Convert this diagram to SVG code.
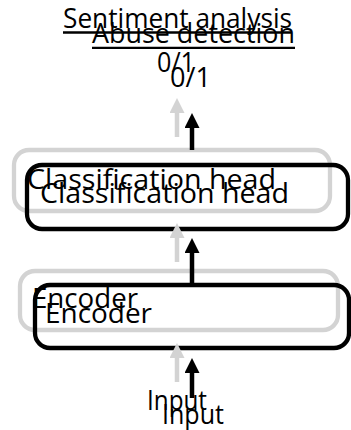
<svg xmlns="http://www.w3.org/2000/svg" width="351" height="430" viewBox="0 0 351 430">
<style>
text{font-family:"Open Sans","Noto Sans","Liberation Sans",sans-serif;font-size:27px;fill:#000}
.g{fill:none;stroke:#d3d3d3;stroke-width:4.3}
.b{fill:none;stroke:#000;stroke-width:4.3}
.ga{stroke:#d3d3d3;stroke-width:4.5;marker-end:url(#hg)}
.ba{stroke:#000;stroke-width:4.5;marker-end:url(#hb)}
.ul{stroke:#000;stroke-width:2.3}
</style>
<defs>
<marker id="hg" markerUnits="userSpaceOnUse" markerWidth="15" markerHeight="15" viewBox="0 0 15 15" refX="0" refY="7.5" orient="auto"><path d="M0,0L15,7.5L0,15z" fill="#d3d3d3"/></marker>
<marker id="hb" markerUnits="userSpaceOnUse" markerWidth="15" markerHeight="15" viewBox="0 0 15 15" refX="0" refY="7.5" orient="auto"><path d="M0,0L15,7.5L0,15z" fill="#000"/></marker>
</defs>
<g id="sentiment">
<text x="63" y="28" textLength="229" lengthAdjust="spacingAndGlyphs">Sentiment analysis</text>
<line class="ul" x1="63" y1="32.5" x2="292" y2="32.5"/>
</g>
<g id="abuse">
<text x="92" y="43" textLength="203" lengthAdjust="spacingAndGlyphs">Abuse detection</text>
<line class="ul" x1="92" y1="47.8" x2="295" y2="47.8"/>
</g>
<g id="out-gray"><text x="157" y="72" textLength="38" lengthAdjust="spacingAndGlyphs">0/1</text></g>
<g id="out-black"><text x="170" y="87" textLength="41" lengthAdjust="spacingAndGlyphs">0/1</text></g>
<g id="head-gray">
<rect class="g" x="14" y="150" width="316" height="61" rx="15"/>
<text x="27" y="189" textLength="249" lengthAdjust="spacingAndGlyphs">Classification head</text>
</g>
<g id="encoder-gray">
<rect class="g" x="20" y="271" width="318" height="59" rx="15"/>
<text x="32" y="308" textLength="106" lengthAdjust="spacingAndGlyphs">Encoder</text>
</g>
<g id="input-gray"><text x="147" y="410" textLength="60" lengthAdjust="spacingAndGlyphs">Input</text></g>
<g id="head-black">
<rect class="b" x="27" y="165" width="321" height="64" rx="15"/>
<text x="40" y="203" textLength="249" lengthAdjust="spacingAndGlyphs">Classification head</text>
</g>
<g id="encoder-black">
<rect class="b" x="35" y="285" width="314" height="63" rx="15"/>
<text x="45" y="323" textLength="107" lengthAdjust="spacingAndGlyphs">Encoder</text>
</g>
<g id="input-black"><text x="162" y="424" textLength="62" lengthAdjust="spacingAndGlyphs">Input</text></g>
<g id="connectors">
<line class="ga" x1="177" y1="137" x2="177" y2="113"/>
<line class="ga" x1="177" y1="262" x2="177" y2="238"/>
<line class="ga" x1="177" y1="382" x2="177" y2="358"/>
<line class="ba" x1="192" y1="150" x2="192" y2="128"/>
<line class="ba" x1="192" y1="283" x2="192" y2="253"/>
<line class="ba" x1="192" y1="398" x2="192" y2="373"/>
</g>
</svg>
